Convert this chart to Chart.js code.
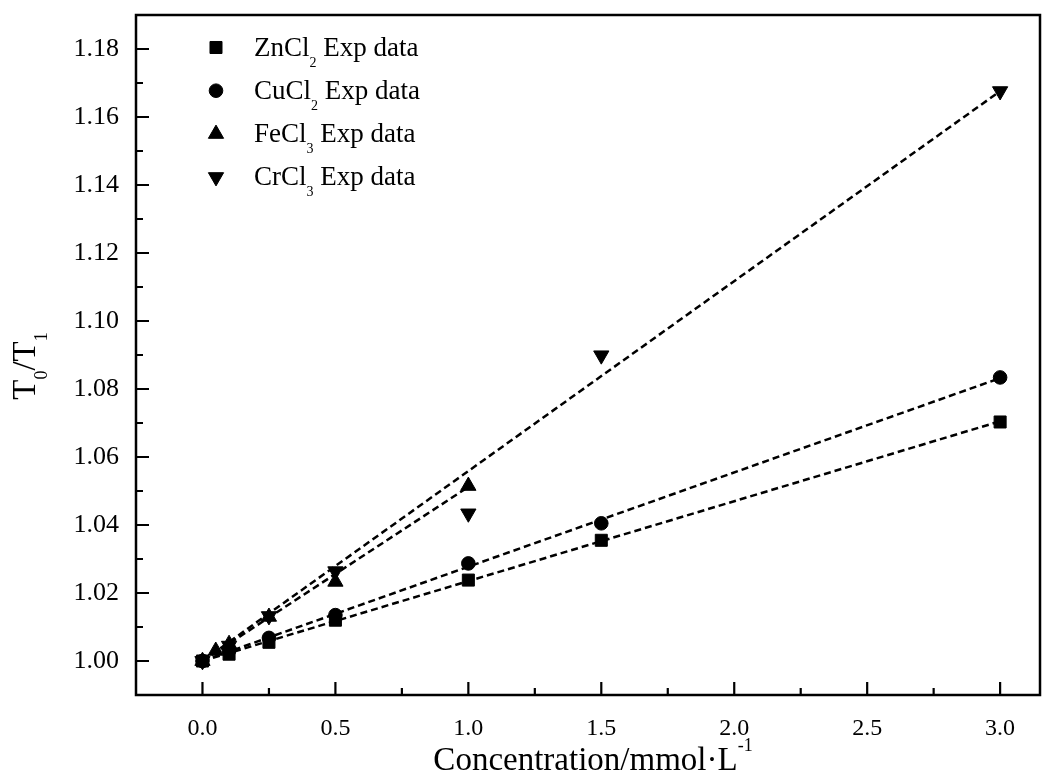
<!DOCTYPE html>
<html>
<head>
<meta charset="utf-8">
<script src="https://cdn.jsdelivr.net/npm/chart.js@4/dist/chart.umd.min.js"></script>
<style>
  html, body { margin: 0; padding: 0; background: #fff; }
  #wrap { position: relative; width: 1052px; height: 782px; }
</style>
</head>
<body>
<div id="wrap"><canvas id="chart"></canvas></div>
<script>
var znX = [0, 0.1, 0.25, 0.5, 1.0, 1.5, 3.0];
var znY = [1.000, 1.002, 1.0055, 1.012, 1.0238, 1.0355, 1.0703];
var cuX = [0, 0.1, 0.25, 0.5, 1.0, 1.5, 3.0];
var cuY = [1.000, 1.003, 1.0068, 1.0135, 1.0287, 1.0405, 1.0834];
var feX = [0, 0.05, 0.1, 0.25, 0.5, 1.0];
var feY = [1.000, 1.0030, 1.0050, 1.0130, 1.0233, 1.0515];
var crX = [0, 0.1, 0.25, 0.5, 1.0, 1.5, 3.0];
var crY = [1.000, 1.0045, 1.0132, 1.0264, 1.0434, 1.0899, 1.1676];

// dashed fit lines (end points)
var fitX   = [0, 3.0];
var znFit  = [1.000, 1.0705];
var cuFit  = [1.000, 1.0832];
var crFit  = [1.000, 1.1676];
var feFitX = [0, 1.0];
var feFit  = [1.000, 1.0512];

// axis ticks
var xTicks      = [0, 0.5, 1.0, 1.5, 2.0, 2.5, 3.0];
var xMinorTicks = [0.25, 0.75, 1.25, 1.75, 2.25, 2.75];
var yTicks      = [1.00, 1.02, 1.04, 1.06, 1.08, 1.10, 1.12, 1.14, 1.16, 1.18];
var yMinorTicks = [1.01, 1.03, 1.05, 1.07, 1.09, 1.11, 1.13, 1.15, 1.17];

var legendLabels = [
    [{ t: 'ZnCl' }, { t: '2', sub: true }, { t: ' Exp data' }],
    [{ t: 'CuCl' }, { t: '2', sub: true }, { t: ' Exp data' }],
    [{ t: 'FeCl' }, { t: '3', sub: true }, { t: ' Exp data' }],
    [{ t: 'CrCl' }, { t: '3', sub: true }, { t: ' Exp data' }]
];
var xTitle = [{ t: 'Concentration/mmol\u00b7L' }, { t: '-1', sup: true }];
var yTitle = [{ t: 'T' }, { t: '0', sub: true }, { t: '/T' }, { t: '1', sub: true }];

var FONT = '"Liberation Serif", "Times New Roman", serif';

function pts(xs, ys) {
    return xs.map(function (x, i) { return { x: x, y: ys[i] }; });
}

function pointSet(label, xs, ys, style, radius, rot) {
    return {
        label: label, data: pts(xs, ys), showLine: false,
        pointStyle: style, pointRadius: radius, pointRotation: rot || 0,
        backgroundColor: '#000', borderColor: '#000', borderWidth: 1,
        order: 0
    };
}

function fitSet(xs, ys) {
    return {
        data: pts(xs, ys), showLine: true, pointRadius: 0,
        borderColor: '#000', borderWidth: 2.5, borderDash: [7, 4],
        fill: false, order: 1
    };
}

// text with sub/superscripts, returns width
function richWidth(ctx, parts, size, small) {
    var w = 0;
    parts.forEach(function (p) {
        ctx.font = ((p.sub || p.sup) ? small : size) + 'px ' + FONT;
        w += ctx.measureText(p.t).width;
    });
    return w;
}
function drawRich(ctx, parts, x, y, size, small, subDy, supDy) {
    ctx.textAlign = 'left';
    ctx.textBaseline = 'alphabetic';
    parts.forEach(function (p) {
        ctx.font = ((p.sub || p.sup) ? small : size) + 'px ' + FONT;
        var dy = p.sub ? subDy : (p.sup ? -supDy : 0);
        ctx.fillText(p.t, x, y + dy);
        x += ctx.measureText(p.t).width;
    });
}

var decorPlugin = {
    id: 'decor',
    afterDraw: function (chart) {
        var ctx = chart.ctx, a = chart.chartArea;
        var xs = chart.scales.x, ys = chart.scales.y;
        ctx.save();
        ctx.strokeStyle = '#000';
        ctx.fillStyle = '#000';
        ctx.lineWidth = 2.5;
        ctx.strokeRect(a.left, a.top, a.right - a.left, a.bottom - a.top);

        // inward tick marks
        ctx.lineWidth = 2.2;
        ctx.beginPath();
        yTicks.forEach(function (v) {
            var p = ys.getPixelForValue(v);
            ctx.moveTo(a.left, p); ctx.lineTo(a.left + 13, p);
        });
        yMinorTicks.forEach(function (v) {
            var p = ys.getPixelForValue(v);
            ctx.moveTo(a.left, p); ctx.lineTo(a.left + 7, p);
        });
        xTicks.forEach(function (v) {
            var p = xs.getPixelForValue(v);
            ctx.moveTo(p, a.bottom); ctx.lineTo(p, a.bottom - 13);
        });
        xMinorTicks.forEach(function (v) {
            var p = xs.getPixelForValue(v);
            ctx.moveTo(p, a.bottom); ctx.lineTo(p, a.bottom - 7);
        });
        ctx.stroke();

        // legend in the upper left corner
        var markers = chart.data.datasets.filter(function (d) { return d.label; });
        markers.forEach(function (d, i) {
            var my = a.top + 32.5 + 43.2 * i;
            ctx.lineWidth = 1;
            if (Chart.helpers && Chart.helpers.drawPoint) {
                Chart.helpers.drawPoint(ctx, {
                    pointStyle: d.pointStyle, radius: d.pointRadius,
                    rotation: d.pointRotation, borderWidth: 1
                }, a.left + 80, my);
            }
            drawRich(ctx, legendLabels[i], a.left + 118, a.top + 41 + 43 * i, 27, 14, 11, 0);
        });

        // axis titles
        var cx = (a.left + a.right) / 2 + 5;
        var w = richWidth(ctx, xTitle, 33, 18);
        drawRich(ctx, xTitle, cx - w / 2, 770, 33, 18, 0, 19);

        ctx.translate(35, (a.top + a.bottom) / 2 + 11);
        ctx.rotate(-Math.PI / 2);
        w = richWidth(ctx, yTitle, 33, 18);
        drawRich(ctx, yTitle, -w / 2, 0, 33, 18, 12, 0);
        ctx.restore();
    }
};

new Chart(document.getElementById('chart').getContext('2d'), {
    type: 'scatter',
    data: {
        datasets: [
            pointSet('ZnCl2 Exp data', znX, znY, 'rect', 8.5),
            pointSet('CuCl2 Exp data', cuX, cuY, 'circle', 6.8),
            pointSet('FeCl3 Exp data', feX, feY, 'triangle', 8.8),
            pointSet('CrCl3 Exp data', crX, crY, 'triangle', 8.8, 180),
            fitSet(fitX, znFit),
            fitSet(fitX, cuFit),
            fitSet(feFitX, feFit),
            fitSet(fitX, crFit)
        ]
    },
    options: {
        responsive: true,
        maintainAspectRatio: false,
        animation: false,
        layout: { padding: { top: 15, right: 12, left: 0, bottom: 0 } },
        plugins: { legend: { display: false }, tooltip: { enabled: false } },
        scales: {
            x: {
                type: 'linear', min: -0.25, max: 3.15,
                grid: { display: false, drawTicks: false },
                border: { display: false },
                afterBuildTicks: function (s) { s.ticks = xTicks.map(function (v) { return { value: v }; }); },
                afterFit: function (s) { s.height = 87; s.paddingLeft = 0; s.paddingRight = 0; },
                ticks: {
                    padding: 19, color: '#000', maxRotation: 0,
                    font: { family: FONT, size: 24 },
                    callback: function (v) { return Number(v).toFixed(1); }
                }
            },
            y: {
                type: 'linear', min: 0.99, max: 1.19,
                grid: { display: false, drawTicks: false },
                border: { display: false },
                afterBuildTicks: function (s) { s.ticks = yTicks.map(function (v) { return { value: v }; }); },
                afterFit: function (s) { s.width = 136; s.paddingTop = 0; s.paddingBottom = 0; },
                ticks: {
                    padding: 17, color: '#000',
                    font: { family: FONT, size: 26 },
                    callback: function (v) { return Number(v).toFixed(2); }
                }
            }
        }
    },
    plugins: [decorPlugin]
});
</script>
</body>
</html>
